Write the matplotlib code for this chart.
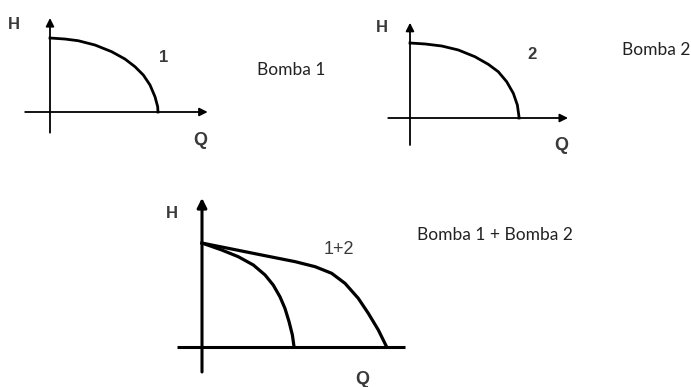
import matplotlib
matplotlib.use("Agg")
import matplotlib.pyplot as plt

W, H = 691, 387

# ---- data (normalised pump curves: Q / Q_max, H / H_shutoff) ----
q_bomba1 = [0.0, 0.139, 0.262, 0.417, 0.571, 0.694, 0.787, 0.864, 0.926, 0.972, 0.997, 1.0]
h_bomba1 = [1.0, 0.986, 0.963, 0.905, 0.815, 0.716, 0.612, 0.500, 0.365, 0.207, 0.072, 0.0]

q_bomba2 = [0.0, 0.138, 0.291, 0.443, 0.596, 0.718, 0.810, 0.887, 0.948, 0.985, 1.0, 1.0]
h_bomba2 = [1.0, 0.987, 0.960, 0.907, 0.817, 0.716, 0.617, 0.484, 0.329, 0.173, 0.017, 0.0]

q_single = [0.0, 0.106, 0.195, 0.276, 0.339, 0.383, 0.419, 0.446, 0.468, 0.486, 0.495]
h_single = [0.99, 0.924, 0.860, 0.781, 0.686, 0.590, 0.479, 0.368, 0.241, 0.114, 0.0]

q_parallel = [0.0, 0.141, 0.321, 0.500, 0.608, 0.697, 0.769, 0.840, 0.894, 0.948, 0.993]
h_parallel = [0.99, 0.940, 0.876, 0.813, 0.765, 0.702, 0.606, 0.464, 0.321, 0.162, 0.0]

curve_labels = ["1", "2", "1+2"]
panel_titles = ["Bomba 1", "Bomba 2", "Bomba 1 + Bomba 2"]

fig = plt.figure(figsize=(W / 100, H / 100), dpi=100)
fig.patch.set_facecolor("white")

TXT = "#222222"
GREY = "#3a3a3a"
LABEL_FONT = ["Lato", "DejaVu Sans"]
AX_FONT = ["Liberation Sans", "DejaVu Sans"]


def make_panel(origin, scale, box):
    """origin/scale/box in pixels -> axes whose data units are the normalised curve units."""
    ox, oy = origin
    sx, sy = scale
    left, top, right, bottom = box
    ax = fig.add_axes([left / W, 1 - bottom / H, (right - left) / W, (bottom - top) / H])
    ax.set_xlim((left - ox) / sx, (right - ox) / sx)
    ax.set_ylim((oy - bottom) / sy, (oy - top) / sy)
    ax.axis("off")
    return ax


def axis_lines(ax, xr, yr, lw, head, x_arrow=True):
    if x_arrow:
        ax.annotate("", xy=(xr[1], 0), xytext=(xr[0], 0),
                    arrowprops=dict(arrowstyle="-|>", color="black", lw=lw,
                                    mutation_scale=head, shrinkA=0, shrinkB=0))
    else:
        ax.plot(xr, [0, 0], color="black", lw=lw, solid_capstyle="butt")
    ax.annotate("", xy=(0, yr[1]), xytext=(0, yr[0]),
                arrowprops=dict(arrowstyle="-|>", color="black", lw=lw,
                                mutation_scale=head, shrinkA=0, shrinkB=0))


def label(ax, x, y, s, size=12, bold=True):
    ax.text(x, y, s, fontsize=size, color=GREY, family=AX_FONT, ha="center", va="center",
            fontweight="bold" if bold else "normal")


# Panel 1
ax1 = make_panel((50, 112), (108, 74), (0, 5, 240, 160))
axis_lines(ax1, (-0.23, 1.46), (-0.28, 1.27), 1.3, 12)
ax1.plot(q_bomba1, h_bomba1, color="black", lw=2.0, solid_joinstyle="round")
label(ax1, 1.05, 0.74, curve_labels[0])
label(ax1, -0.335, 1.18, "H")
label(ax1, 1.39, -0.38, "Q", size=13)

# Panel 2
ax2 = make_panel((410, 118), (109, 75), (370, 5, 600, 165))
axis_lines(ax2, (-0.20, 1.45), (-0.36, 1.27), 1.3, 12)
ax2.plot(q_bomba2, h_bomba2, color="black", lw=2.0, solid_joinstyle="round")
label(ax2, 1.12, 0.85, curve_labels[1])
label(ax2, -0.26, 1.20, "H")
label(ax2, 1.39, -0.36, "Q", size=13)

# Panel 3
ax3 = make_panel((202, 347), (186, 105), (150, 185, 420, 387))
axis_lines(ax3, (-0.134, 1.09), (-0.238, 1.42), 2.2, 14, x_arrow=False)
ax3.plot(q_single, h_single, color="black", lw=2.3, solid_joinstyle="round")
ax3.plot(q_parallel, h_parallel, color="black", lw=2.3, solid_joinstyle="round")
label(ax3, 0.735, 0.93, curve_labels[2], size=13, bold=False)
label(ax3, -0.16, 1.27, "H")
label(ax3, 0.86, -0.31, "Q", size=13)

# Panel titles (figure pixel positions)
fig.text(257 / W, 1 - 70 / H, panel_titles[0], fontsize=12.5, color=TXT, family=LABEL_FONT,
         ha="left", va="center")
fig.text(622 / W, 1 - 50 / H, panel_titles[1], fontsize=12.5, color=TXT, family=LABEL_FONT,
         ha="left", va="center")
fig.text(417 / W, 1 - 235 / H, panel_titles[2], fontsize=12.5, color=TXT, family=LABEL_FONT,
         ha="left", va="center")

fig.savefig("out.png", dpi=100, facecolor="white")
